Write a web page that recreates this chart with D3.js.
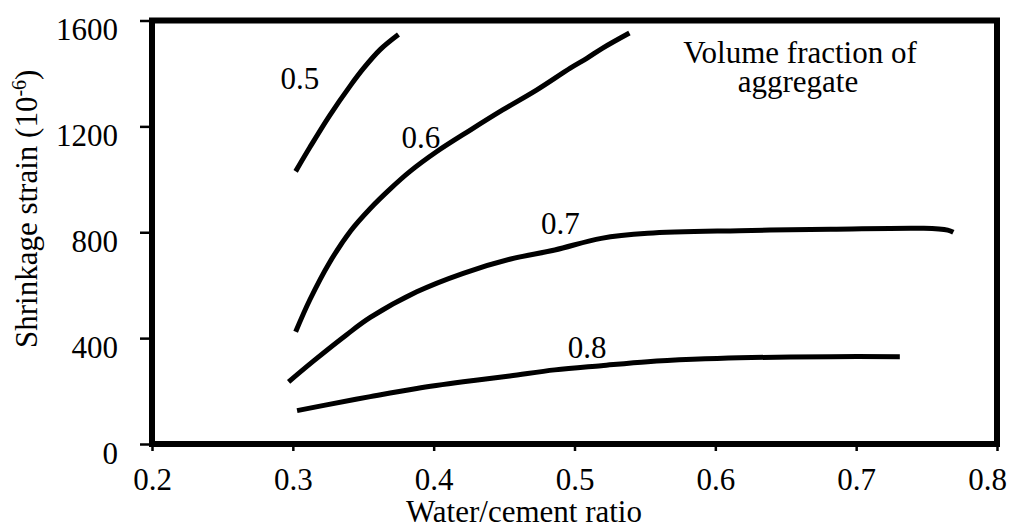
<!DOCTYPE html>
<html>
<head>
<meta charset="utf-8">
<script src="https://cdn.jsdelivr.net/npm/d3@7"></script>
<style>
  html, body { margin: 0; padding: 0; background: #fff; }
  svg { display: block; }
</style>
</head>
<body>
<svg id="chart" width="1010" height="528" font-family="Liberation Serif" font-size="31"></svg>
<script>
// Shrinkage strain vs water/cement ratio, one curve per aggregate volume fraction
const xTicks = [0.2, 0.3, 0.4, 0.5, 0.6, 0.7, 0.8];
const xTickLabels = ["0.2", "0.3", "0.4", "0.5", "0.6", "0.7", "0.8"];
const yTicks = [0, 400, 800, 1200, 1600];
const yTickLabels = ["0", "400", "800", "1200", "1600"];

const fractions = ["0.5", "0.6", "0.7", "0.8"];

const wc05 = [0.302, 0.312, 0.326, 0.341, 0.350, 0.362, 0.375];
const strain05 = [1030, 1120, 1240, 1355, 1418, 1490, 1547];

const wc06 = [0.302, 0.312, 0.326, 0.341, 0.355, 0.369, 0.383, 0.402, 0.426, 0.449, 0.473, 0.497, 0.509, 0.520, 0.539];
const strain06 = [424, 544, 685, 805, 890, 963, 1029, 1104, 1186, 1262, 1337, 1420, 1458, 1496, 1553];

const wc07 = [0.297, 0.315, 0.338, 0.355, 0.388, 0.421, 0.454, 0.486, 0.519, 0.552, 0.617, 0.682, 0.748, 0.765, 0.769];
const strain07 = [235, 315, 412, 478, 575, 645, 698, 733, 777, 796, 806, 811, 815, 808, 800];

const wc08 = [0.303, 0.323, 0.355, 0.388, 0.421, 0.454, 0.486, 0.519, 0.552, 0.584, 0.617, 0.682, 0.731];
const strain08 = [126, 147, 179, 210, 235, 257, 280, 296, 311, 320, 326, 330, 330];

// curve label anchor points (data units)
const labelWc = [0.305, 0.391, 0.490, 0.509];
const labelStrain = [1340, 1120, 795, 325];

const svg = d3.select("#chart");
const FAMILY = "Liberation Serif";
const SIZE = 31;

function serif(sel) {
  return sel.attr("fill", "#000")
    .attr("font-family", FAMILY)
    .attr("font-size", SIZE);
}

const x = d3.scaleLinear().domain([0.2, 0.8]).range([152, 997]);
const y = d3.scaleLinear().domain([0, 1600]).range([444, 20.5]);

// y axis ticks and labels
const yAxis = svg.append("g")
  .attr("transform", `translate(${x(0.2)},0)`)
  .call(d3.axisLeft(y).tickValues(yTicks).tickSize(12).tickFormat((d, i) => yTickLabels[i]));
yAxis.attr("font-family", FAMILY).attr("font-size", SIZE);
yAxis.select(".domain").remove();
yAxis.selectAll(".tick line").attr("stroke", "#000").attr("stroke-width", 2.5);
serif(yAxis.selectAll(".tick text").attr("x", -34).attr("y", 19).attr("dy", null));

// x axis ticks and labels
const xAxis = svg.append("g")
  .attr("transform", `translate(0,${y(0)})`)
  .call(d3.axisBottom(x).tickValues(xTicks).tickSize(7).tickFormat((d, i) => xTickLabels[i]));
xAxis.attr("font-family", FAMILY).attr("font-size", SIZE);
xAxis.select(".domain").remove();
xAxis.selectAll(".tick line").attr("stroke", "#000").attr("stroke-width", 2.5);
serif(xAxis.selectAll(".tick text")
  .attr("y", 46).attr("dy", null)
  .attr("dx", (d, i) => (i === xTicks.length - 1 ? -10 : 0)));

// heavy plot frame
svg.append("rect")
  .attr("x", x(0.2)).attr("y", y(1600))
  .attr("width", x(0.8) - x(0.2)).attr("height", y(0) - y(1600))
  .attr("fill", "none").attr("stroke", "#000").attr("stroke-width", 6)
  .attr("stroke-linejoin", "miter");

// curves
const series = [
  { wc: wc05, s: strain05 },
  { wc: wc06, s: strain06 },
  { wc: wc07, s: strain07 },
  { wc: wc08, s: strain08 }
];
const line = d3.line()
  .x(d => x(d[0]))
  .y(d => y(d[1]))
  .curve(d3.curveCatmullRom.alpha(0.5));

svg.append("g").selectAll("path")
  .data(series)
  .join("path")
  .attr("d", d => line(d.wc.map((v, i) => [v, d.s[i]])))
  .attr("fill", "none")
  .attr("stroke", "#000")
  .attr("stroke-width", 5)
  .attr("stroke-linecap", "butt")
  .attr("stroke-linejoin", "round");

// curve labels
serif(svg.append("g").selectAll("text").data(fractions).join("text")
  .attr("x", (d, i) => x(labelWc[i]))
  .attr("y", (d, i) => y(labelStrain[i]))
  .attr("text-anchor", "middle")
  .text(d => d));

// annotation
serif(svg.append("text").attr("x", 800).attr("y", 63).attr("text-anchor", "middle").text("Volume fraction of"));
serif(svg.append("text").attr("x", 798).attr("y", 92).attr("text-anchor", "middle").text("aggregate"));

// axis titles
serif(svg.append("text").attr("x", 524).attr("y", 522).attr("text-anchor", "middle").text("Water/cement ratio"));

const yTitle = serif(svg.append("text")
  .attr("transform", "translate(37,348) rotate(-90)")
  .attr("text-anchor", "start"));
yTitle.append("tspan").text("Shrinkage strain (10");
yTitle.append("tspan").attr("dy", -11).attr("font-size", 20).text("-6");
yTitle.append("tspan").attr("dy", 11).text(")");
</script>
</body>
</html>
